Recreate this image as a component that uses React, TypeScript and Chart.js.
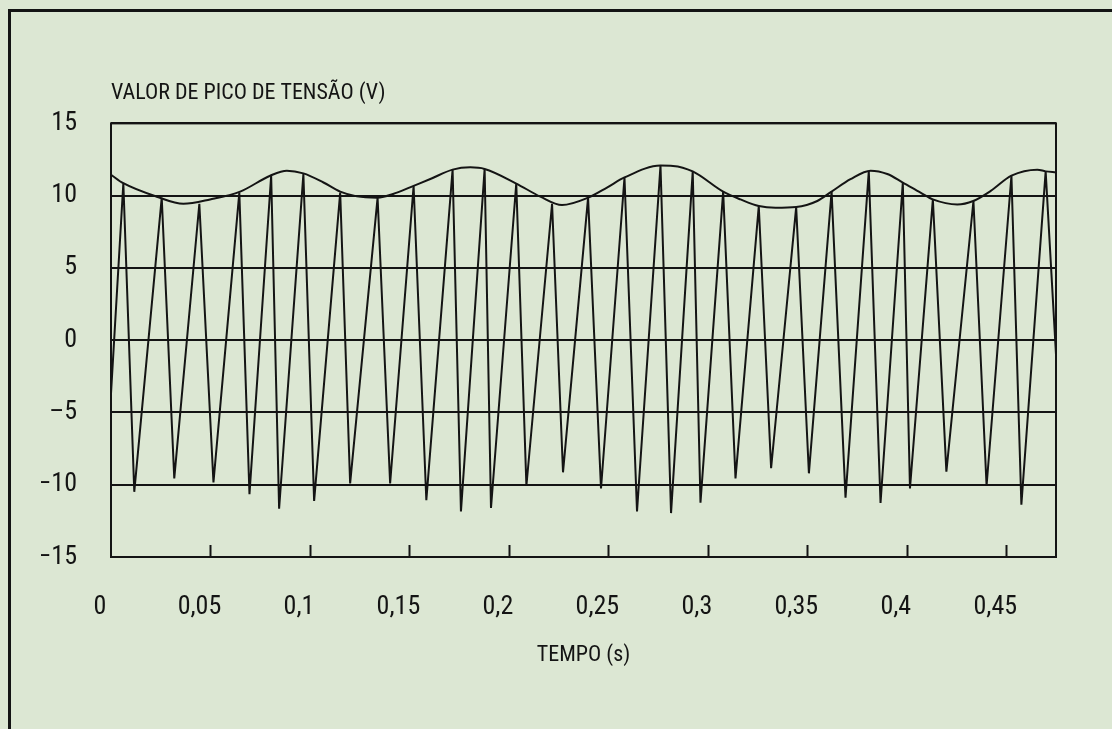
import React, { useEffect, useRef } from "react";
import { Chart, registerables } from "chart.js";

Chart.register(...registerables);

// ---- data ----
const waveTimes = [
  0, 0.0062, 0.0117, 0.0255, 0.0318, 0.0444, 0.0515, 0.0645, 0.0696, 0.0805,
  0.0845, 0.0967, 0.1021, 0.1152, 0.1202, 0.134, 0.1403, 0.1521, 0.1585, 0.1717,
  0.1759, 0.1878, 0.191, 0.2037, 0.2088, 0.2217, 0.2272, 0.2398, 0.2463, 0.2581,
  0.2644, 0.2762, 0.2815, 0.2924, 0.2963, 0.3077, 0.3139, 0.3256, 0.3318, 0.3444,
  0.3508, 0.3622, 0.3692, 0.3809, 0.3868, 0.398, 0.4016, 0.4131, 0.4199, 0.4335,
  0.4401, 0.4526, 0.4576, 0.4698, 0.475,
];
const waveVolts = [
  -3.7, 10.86, -10.49, 9.86, -9.56, 9.44, -9.84, 10.21, -10.65, 11.38,
  -11.66, 11.49, -11.12, 10.21, -9.91, 9.86, -9.91, 10.67, -11.07, 11.8,
  -11.85, 11.85, -11.61, 10.84, -10.07, 9.44, -9.14, 9.86, -10.26, 11.26,
  -11.85, 12.08, -11.96, 11.68, -11.24, 10.28, -9.56, 9.28, -8.86, 9.21,
  -9.21, 10.28, -10.89, 11.68, -11.26, 10.91, -10.26, 9.74, -9.09, 9.63,
  -10.07, 11.38, -11.38, 11.68, -1,
];
const envTimes = [
  0, 0.0062, 0.023, 0.0364, 0.0498, 0.0649, 0.08, 0.0884, 0.0967, 0.1068,
  0.1152, 0.1236, 0.1337, 0.1437, 0.1521, 0.1605, 0.1717, 0.1806, 0.1878, 0.2037,
  0.2158, 0.2267, 0.2398, 0.2493, 0.2581, 0.2762, 0.2825, 0.2924, 0.3077, 0.3164,
  0.3256, 0.334, 0.3444, 0.355, 0.3622, 0.3717, 0.3818, 0.3902, 0.398, 0.4069,
  0.4131, 0.4254, 0.4334, 0.4422, 0.4526, 0.4656, 0.4698, 0.475,
];
const envVolts = [
  11.45, 10.86, 9.93, 9.44, 9.74, 10.28, 11.38, 11.73, 11.54, 10.91,
  10.28, 9.95, 9.86, 10.21, 10.68, 11.15, 11.8, 11.96, 11.85, 10.84,
  9.93, 9.35, 9.86, 10.56, 11.26, 12.08, 12.06, 11.68, 10.28, 9.74,
  9.28, 9.16, 9.21, 9.63, 10.28, 11.14, 11.73, 11.5, 10.91, 10.21,
  9.74, 9.39, 9.63, 10.33, 11.38, 11.8, 11.68, 11.61,
];
const xMin = 0;
const xMax = 0.475;
const xStep = 0.05;
const yMin = -15;
const yMax = 15;
const yStep = 5;
const yTitle = "VALOR DE PICO DE TENSÃO (V)";
const xTitle = "TEMPO (s)";

const INK = "#141414";
const BG = "#dce7d3";

// Pick the narrowest-looking installed sans font (the reference uses a condensed plotter font).
function pickFont() {
  const fallback = { family: '"Liberation Sans", sans-serif', weight: "normal", size: 20 };
  const ctx = document.createElement("canvas").getContext("2d");
  if (!ctx) return fallback;
  const measure = (f: string) => {
    ctx.font = "10px serif";
    ctx.font = f;
    if (ctx.font === "10px serif") return NaN;
    return ctx.measureText(yTitle).width;
  };
  const cands = [
    { family: '"Liberation Sans Narrow"', weight: "normal" },
    { family: '"DejaVu Sans Condensed"', weight: "normal" },
    { family: '"Noto Sans"', weight: "condensed" },
    { family: '"Noto Sans"', weight: "semi-condensed" },
    { family: '"Open Sans"', weight: "condensed" },
    { family: '"Open Sans"', weight: "semi-condensed" },
    { family: '"DejaVu Sans"', weight: "condensed" },
    { family: "Roboto", weight: "condensed" },
    { family: "Inter", weight: "condensed" },
    { family: '"Liberation Sans"', weight: "normal" },
  ];
  const wanted = 23;
  const targetW = 268;
  let best = fallback;
  let bestScore = Infinity;
  for (const c of cands) {
    const a = measure(`100px ${c.family}, monospace`);
    const b = measure(`100px ${c.family}, serif`);
    if (!(Math.abs(a - b) < 0.01)) continue; // family missing
    const w = measure(`${c.weight} 100px ${c.family}, serif`);
    if (!isFinite(w)) continue;
    const size = (targetW * 100) / w;
    const score = Math.abs(size - wanted);
    if (score < bestScore) {
      bestScore = score;
      best = { family: `${c.family}, "Liberation Sans", sans-serif`, weight: c.weight, size };
    }
  }
  return best;
}

const framePlugin = {
  id: "frameAndTicks",
  afterDraw(chart: any) {
    const { ctx, chartArea: a } = chart;
    const xs = chart.scales.x;
    ctx.save();
    ctx.strokeStyle = INK;
    ctx.lineWidth = 2;
    ctx.strokeRect(a.left, a.top, a.right - a.left, a.bottom - a.top);
    xs.ticks.forEach((t: any) => {
      if (t.value <= xs.min) return;
      const px = Math.round(xs.getPixelForValue(t.value)) + 0.5;
      ctx.beginPath();
      ctx.moveTo(px, a.bottom);
      ctx.lineTo(px, a.bottom - 12);
      ctx.stroke();
    });
    ctx.restore();
  },
};

export default function App() {
  const ref = useRef<HTMLCanvasElement | null>(null);

  useEffect(() => {
    if (!ref.current) return;
    const f = pickFont();
    const titleSize = Math.round(Math.max(19, Math.min(24, (f.size + 23) / 2)));
    const tickSize = Math.round(titleSize * 1.2);
    const font = (size: number) => ({ size, family: f.family, weight: f.weight as any });
    Chart.defaults.font.family = f.family;
    Chart.defaults.color = INK;
    const chart = new Chart(ref.current, {
      type: "line",
      data: {
        datasets: [
          {
            data: waveTimes.map((t, i) => ({ x: t, y: waveVolts[i] })),
            borderColor: INK,
            borderWidth: 2,
            pointRadius: 0,
            tension: 0,
          },
          {
            data: envTimes.map((t, i) => ({ x: t, y: envVolts[i] })),
            borderColor: INK,
            borderWidth: 2,
            pointRadius: 0,
            cubicInterpolationMode: "monotone",
          },
        ],
      },
      options: {
        animation: false,
        responsive: false,
        events: [],
        layout: { padding: { left: 41, right: 56, top: 80, bottom: 60 } },
        plugins: {
          legend: { display: false },
          tooltip: { enabled: false },
          title: {
            display: true,
            text: yTitle,
            align: "start",
            fullSize: false,
            color: INK,
            font: font(titleSize),
            padding: { top: 0, bottom: 17 },
          },
        },
        scales: {
          x: {
            type: "linear",
            min: xMin,
            max: xMax,
            grid: { display: false, drawTicks: false },
            border: { display: false },
            ticks: {
              stepSize: xStep,
              includeBounds: false,
              autoSkip: false,
              maxRotation: 0,
              padding: 35,
              labelOffset: -11,
              color: INK,
              font: font(tickSize),
              callback: (v: any) =>
                Number(v) === 0 ? "0" : String(Number(Number(v).toFixed(2))).replace(".", ","),
            },
            title: {
              display: true,
              text: xTitle,
              color: INK,
              font: font(titleSize),
              padding: { top: 10, bottom: 0 },
            },
            afterFit: (s: any) => {
              s.height = 112;
            },
          },
          y: {
            type: "linear",
            min: yMin,
            max: yMax,
            grid: { color: INK, lineWidth: 2, drawTicks: false },
            border: { display: false },
            ticks: {
              stepSize: yStep,
              padding: 34,
              color: INK,
              font: font(tickSize),
              callback: (v: any) => (Number(v) < 0 ? "\u2013" + Math.abs(Number(v)) : String(v)),
            },
            afterFit: (s: any) => {
              s.width = 70;
            },
          },
        },
      },
      plugins: [framePlugin],
    });
    return () => chart.destroy();
  }, []);

  return (
    <div style={{ position: "fixed", left: 0, top: 0, width: 1112, height: 729, background: BG, overflow: "hidden" }}>
      <canvas ref={ref} width={1112} height={729} style={{ position: "absolute", left: 0, top: 0 }} />
      <div
        style={{
          position: "absolute",
          left: 8,
          top: 9,
          width: 1110,
          height: 725,
          borderTop: `3px solid ${INK}`,
          borderLeft: `3px solid ${INK}`,
          pointerEvents: "none",
        }}
      />
    </div>
  );
}
